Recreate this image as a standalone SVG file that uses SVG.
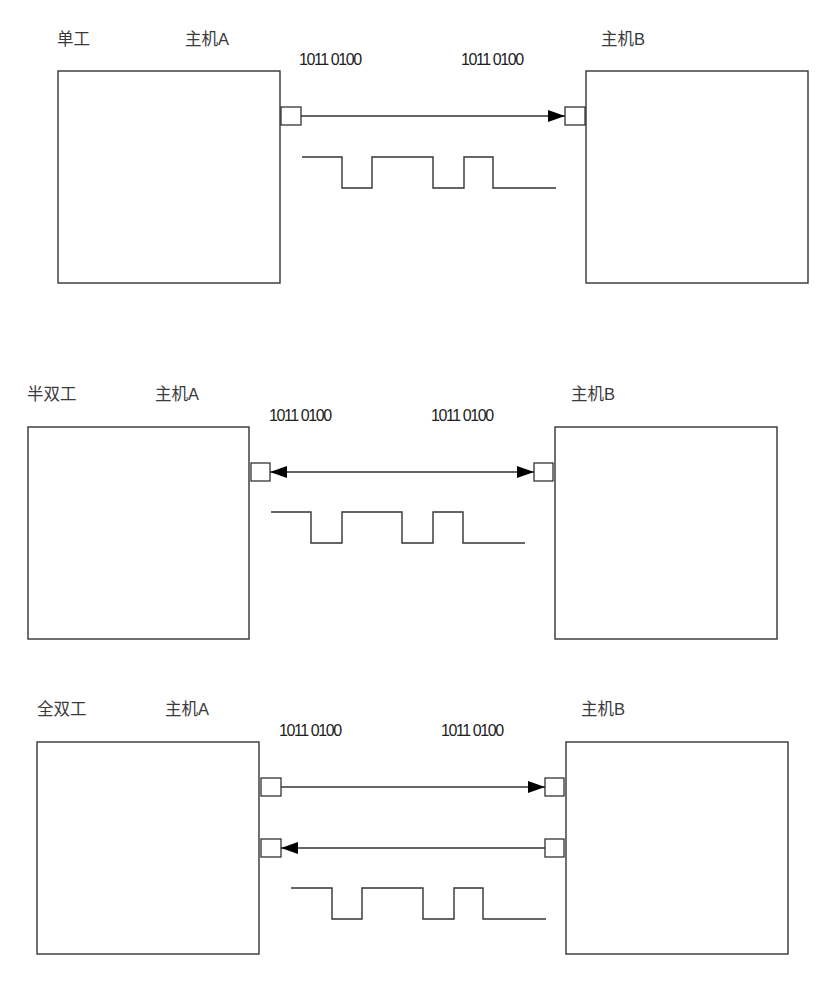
<svg xmlns="http://www.w3.org/2000/svg" width="835" height="992" viewBox="0 0 835 992">
<style>
  .box { fill: #fff; stroke: #333; stroke-width: 1.4; }
  .port { fill: #fff; stroke: #333; stroke-width: 1.3; }
  .wire { fill: none; stroke: #333; stroke-width: 1.3; }
  .wave { fill: none; stroke: #333; stroke-width: 1.4; }
  .lbl { font-family: "Liberation Sans", "Noto Sans CJK SC", sans-serif; font-size: 16.5px; fill: #3a3a3a; }
  .bits { font-family: "Liberation Sans", sans-serif; font-size: 16px; letter-spacing: -1.4px; fill: #222; }
</style>
<defs>
  <marker id="arr" markerUnits="userSpaceOnUse" markerWidth="18" markerHeight="13" refX="17" refY="6" orient="auto-start-reverse">
    <path d="M0,0 L17,6 L0,12 Z" fill="#000"/>
  </marker>
</defs>
<rect width="835" height="992" fill="#fff"/>

<!-- Section 1: simplex -->
<g id="s1-labels">
  <text class="lbl" x="57" y="45">单工</text>
  <text class="bits" x="299" y="65">1011 0100</text>
  <text class="bits" x="461" y="65">1011 0100</text>
</g>
<g id="s1-hostA">
  <text class="lbl" x="185" y="45">主机A</text>
  <rect class="box" x="58" y="71" width="222" height="212"/>
  <rect class="port" x="281" y="107" width="20" height="18"/>
</g>
<g id="s1-hostB">
  <text class="lbl" x="601" y="45">主机B</text>
  <rect class="box" x="586" y="71" width="222" height="212"/>
  <rect class="port" x="565" y="107" width="20" height="18"/>
</g>

<!-- Section 2: half duplex -->
<g id="s2-labels">
  <text class="lbl" x="27" y="400">半双工</text>
  <text class="bits" x="269" y="421">1011 0100</text>
  <text class="bits" x="431" y="421">1011 0100</text>
</g>
<g id="s2-hostA">
  <text class="lbl" x="155" y="400">主机A</text>
  <rect class="box" x="28" y="427" width="221" height="212"/>
  <rect class="port" x="251" y="463" width="19" height="18"/>
</g>
<g id="s2-hostB">
  <text class="lbl" x="571" y="400">主机B</text>
  <rect class="box" x="555" y="427" width="222" height="212"/>
  <rect class="port" x="534" y="463" width="19" height="18"/>
</g>

<!-- Section 3: full duplex -->
<g id="s3-labels">
  <text class="lbl" x="37" y="715">全双工</text>
  <text class="bits" x="279" y="736">1011 0100</text>
  <text class="bits" x="441" y="736">1011 0100</text>
</g>
<g id="s3-hostA">
  <text class="lbl" x="165" y="715">主机A</text>
  <rect class="box" x="37" y="742" width="222" height="212"/>
  <rect class="port" x="261" y="778" width="20" height="18"/>
  <rect class="port" x="261" y="839" width="20" height="18"/>
</g>
<g id="s3-hostB">
  <text class="lbl" x="581" y="715">主机B</text>
  <rect class="box" x="566" y="742" width="222" height="212"/>
  <rect class="port" x="545" y="778" width="19" height="18"/>
  <rect class="port" x="545" y="839" width="19" height="18"/>
</g>

<g id="connectors">
  <line class="wire" x1="301" y1="116" x2="565" y2="116" marker-end="url(#arr)"/>
  <line class="wire" x1="270" y1="472" x2="534" y2="472" marker-start="url(#arr)" marker-end="url(#arr)"/>
  <line class="wire" x1="281" y1="787" x2="545" y2="787" marker-end="url(#arr)"/>
  <line class="wire" x1="545" y1="848" x2="281" y2="848" marker-end="url(#arr)"/>
</g>

<g id="waveforms">
  <polyline class="wave" points="302,157 342,157 342,188 372,188 372,157 433,157 433,188 464,188 464,157 493,157 493,188 556,188"/>
  <polyline class="wave" points="271,512 311,512 311,543 342,543 342,512 402,512 402,543 433,543 433,512 463,512 463,543 525,543"/>
  <polyline class="wave" points="291,888 332,888 332,919 362,919 362,888 423,888 423,919 454,919 454,888 483,888 483,919 546,919"/>
</g>
</svg>
